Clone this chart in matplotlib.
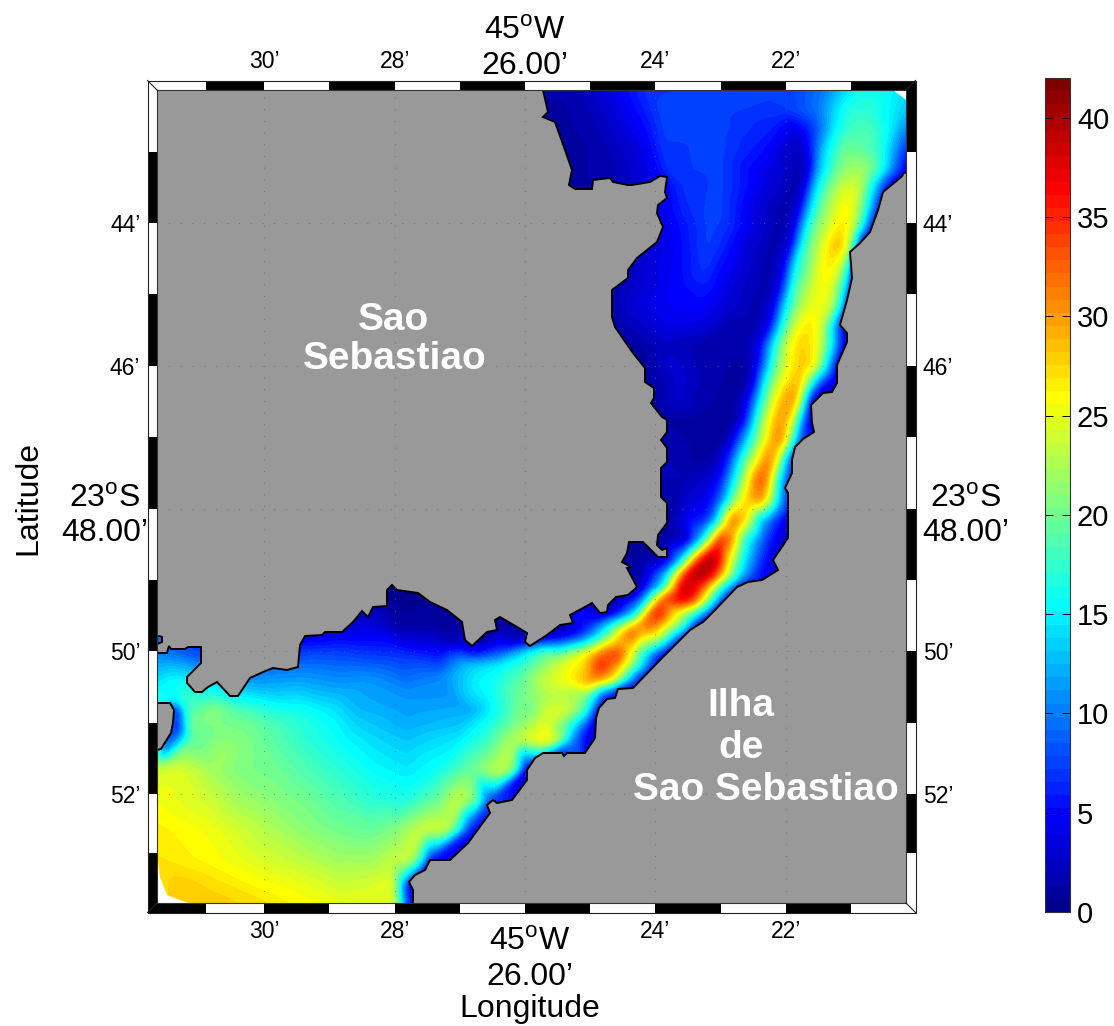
import numpy as np
import matplotlib
matplotlib.use("Agg")
import matplotlib.pyplot as plt
from matplotlib.colors import ListedColormap
from matplotlib.patches import Polygon, Rectangle
from matplotlib.tri import Triangulation, LinearTriInterpolator

plt.rcParams['font.family'] = ['Liberation Sans', 'DejaVu Sans']
plt.rcParams['mathtext.fontset'] = 'custom'
plt.rcParams['mathtext.rm'] = 'Liberation Sans'

W, H = 1114, 1026
X26, PXLON, Y44, PXLAT = 525.0, 65.2, 223.0, 71.4
MAP_L, MAP_R, MAP_T, MAP_B = 157, 906, 90, 903

def lon(px):
    return -(45 + (26 + (X26 - np.asarray(px, float)) / PXLON) / 60)
def lat(py):
    return -(23 + (44 + (np.asarray(py, float) - Y44) / PXLAT) / 60)
def lonm(m):
    return -(45 + np.asarray(m, float) / 60)
def latm(m):
    return -(23 + np.asarray(m, float) / 60)

# --- sea-surface values: (row, [(column, value), ...])
FIELD_ROWS = [
 (92,[(545,1.5),(575,1.5),(600,3),(625,5),(650,7),(700,7.5),(770,7.5),(800,8),(825,10),(840,13),(860,16),(880,16),(895,15),(905,14)]),
 (110,[(548,1),(580,1.5),(610,3),(640,5.5),(660,7.5),(720,7.5),(780,7),(800,8),(820,10),(835,14),(850,17),(870,17),(890,15),(905,13)]),
 (130,[(555,1),(590,1.5),(620,3),(645,5),(665,7.5),(720,7.5),(770,6),(795,3.5),(810,6),(822,10),(835,15),(850,18),(870,18.5),(890,15),(905,10)]),
 (150,[(567,1),(600,1.5),(640,3.5),(665,7),(720,7.5),(760,5.5),(790,2.5),(805,3),(815,8),(825,14),(845,20),(860,19.5),(880,17),(895,11),(906,6)]),
 (170,[(573,1),(620,2),(650,4),(670,7),(720,7.5),(750,5),(780,3),(800,1.5),(810,4),(818,12),(835,19),(850,22),(865,22),(880,17),(895,9),(905,4)]),
 (185,[(640,3),(665,4.5),(680,6.5),(720,7.5),(745,5.5),(775,3),(795,1.5),(805,3),(815,13),(830,20),(845,24),(860,23.5),(875,14),(885,6)]),
 (205,[(660,4),(680,6),(695,7),(720,7.5),(735,6),(760,3),(785,1.5),(800,3),(808,11),(820,19),(835,24),(847,26.5),(860,22),(872,12),(880,5)]),
 (225,[(663,4),(690,6),(710,7.5),(725,7),(755,3.5),(780,1.5),(795,3),(803,12),(815,20),(835,25.5),(845,27),(855,23),(868,10),(875,4)]),
 (245,[(655,3.5),(680,5),(708,7.5),(720,6.5),(750,3),(775,1.5),(790,3),(798,12),(810,20),(825,25),(835,29),(845,27),(852,20),(860,5)]),
 (265,[(630,2),(650,3.5),(680,5),(705,7),(720,5.5),(745,3),(770,1.5),(785,4),(795,15),(815,23),(827,27),(838,25),(848,18),(853,5)]),
 (285,[(615,1.5),(640,3),(680,5),(705,6),(730,3.5),(755,2),(775,2),(785,8),(795,18),(815,24.5),(828,26),(838,21),(848,12),(852,3)]),
 (305,[(612,1.5),(630,3),(660,4.5),(700,5),(730,3),(760,1.5),(775,4),(785,14),(800,22),(815,25.5),(830,24),(840,16),(848,5)]),
 (325,[(615,1.5),(640,2.5),(670,4),(705,3.5),(730,1.5),(755,1.5),(770,4),(780,14),(795,24),(808,27),(820,25),(832,15),(840,6)]),
 (345,[(635,1),(665,2.5),(700,1.5),(745,1.5),(760,4),(770,12),(785,23),(800,28),(810,27),(820,24),(832,15),(845,3)]),
 (365,[(645,1),(670,3),(700,1.8),(745,1),(755,3),(765,10),(775,19),(790,26),(800,28),(805,28),(815,26),(825,16),(835,6)]),
 (380,[(648,1),(680,3),(710,1.5),(745,1),(755,4),(763,13),(772,20),(785,26),(800,29),(810,20),(820,10),(835,3)]),
 (400,[(654,1),(680,3),(700,1.5),(735,1),(748,4),(757,12),(768,21),(778,27),(790,31),(798,27),(805,15),(811,4)]),
 (420,[(667,1),(700,1),(735,1),(745,5),(752,12),(762,21),(772,27),(782,31),(792,25),(800,14),(808,4)]),
 (440,[(667,2),(700,1),(722,1),(733,4),(742,10),(752,17),(763,24),(772,29),(779,32),(786,26),(793,17),(800,8)]),
 (460,[(667,2),(700,1),(715,1.5),(727,5),(737,13),(747,20),(758,26),(768,32),(775,28),(783,17),(792,6)]),
 (480,[(661,2),(690,2),(710,3),(722,6),(733,14),(745,23),(755,31),(762,34),(770,27),(778,16),(788,7)]),
 (500,[(663,1),(690,3),(705,4),(717,7),(727,14),(737,23),(750,29),(760,31),(768,25),(778,14),(788,6)]),
 (520,[(667,1),(690,5),(705,6),(717,13),(725,24),(733,33),(742,29),(750,23),(760,14),(775,7),(788,3)]),
 (540,[(665,1),(687,3),(700,12),(710,23),(720,36),(730,32),(743,18),(763,8),(780,3)]),
 (560,[(640,1),(660,2),(672,6),(680,12),(690,24),(700,36),(710,41),(720,36),(730,25),(743,15),(760,7),(775,3)]),
 (575,[(640,1),(653,6),(665,12),(672,20),(680,30),(690,39),(703,41),(713,36),(727,24),(740,14),(757,6)]),
 (587,[(640,1.5),(648,6),(663,15),(673,28),(680,37),(688,40),(700,35),(713,24),(725,14),(740,5)]),
 (595,[(387,.5),(420,.5)]),
 (600,[(620,2),(637,7),(647,14),(655,25),(663,34),(680,38),(693,34),(707,22),(718,11),(727,4)]),
 (610,[(400,.5),(430,.8),(450,.8)]),
 (613,[(607,2),(623,7),(632,12),(640,18),(648,30),(658,37),(665,33),(677,25),(690,20),(703,12),(713,5)]),
 (625,[(340,2.5),(370,3.5),(400,1),(430,1),(460,1),(500,.8),(590,6),(610,15),(630,25),(640,31),(650,33),(660,29),(680,20),(693,8),(700,3)]),
 (635,[(560,2),(580,6),(597,13),(613,22),(622,29),(630,34),(642,27),(655,26),(665,22),(675,13),(690,4)]),
 (640,[(310,4.5),(350,5),(400,3.5),(450,1.5),(485,1),(520,1.5),(540,5)]),
 (653,[(158,10),(190,8),(305,7.5),(340,7.5),(400,6.5),(440,5),(473,5),(500,8),(515,12),(530,16),(545,19)]),
 (655,[(560,20),(575,24),(590,28),(602,33),(617,35),(630,26),(642,16),(655,8),(665,3)]),
 (665,[(158,12),(180,12),(467,13),(500,15),(527,18),(560,24),(583,27),(602,36),(613,32),(627,24),(640,16),(657,4)]),
 (680,[(158,14),(175,15.5),(250,11),(300,11.5),(373,11),(440,10.5),(462,13),(475,15),(495,16),(520,19),(540,23),(560,25),(580,28),(593,31),(607,28),(617,23),(627,15),(637,6)]),
 (695,[(158,16),(190,18),(210,17),(240,14.5),(273,13.5),(340,12.5),(407,11),(450,11),(470,14),(490,15.5),(520,20),(540,22),(560,23),(580,22),(595,15),(605,6)]),
 (700,[(165,16),(175,15)]),
 (710,[(176,4),(180,8),(187,18),(215,21),(240,18.5),(273,16.5),(300,16),(333,14.5),(357,12.5),(407,11.5),(473,12),(495,15.5),(533,20),(567,24),(585,18),(597,5)]),
 (725,[(178,5),(190,20),(220,20.5),(250,20),(273,18.5),(300,17),(333,15.5),(360,13.5),(407,12),(460,13),(490,16.5),(520,21),(545,25),(570,17),(590,5)]),
 (740,[(176,10),(190,19),(223,21),(247,20.5),(273,19),(307,17),(340,15.5),(373,14),(407,13),(457,14.5),(490,18),(515,23),(547,27),(560,22),(573,10),(590,3)]),
 (755,[(160,10),(175,20),(223,22)]),
 (770,[(158,24),(180,24.5),(213,22),(240,20.5),(273,20),(307,18.5),(340,17),(373,15.5),(407,14.5),(440,16),(473,20),(500,24),(515,20),(523,7),(530,2)]),
 (800,[(158,25.5),(207,24),(240,22),(273,21),(307,20),(340,18.5),(373,17),(407,16.5),(440,20),(460,24),(478,19),(488,8)]),
 (830,[(158,26.5),(207,25.5),(240,24),(273,22.5),(307,21),(340,20),(373,19.5),(393,20.5),(423,24),(445,24),(460,15),(470,5)]),
 (860,[(158,27),(207,26),(240,25),(273,24),(307,23),(340,22),(373,22),(393,23.5),(407,24),(420,18),(430,5)]),
 (885,[(165,27.5),(185,28),(207,27.5),(257,26),(307,25),(357,24),(393,25),(400,15),(406,6),(411,4)]),
 (903,[(165,27.5),(190,28),(250,27.5),(300,26),(340,25),(393,25),(402,15),(407,6),(412,5)]),
]
# values under the land, only to close the field
LAND_FILL = [(100,50,0),(1000,50,5),(100,950,20),(1000,950,0),(300,300,0),(500,300,0),(500,500,0),
             (200,500,0),(900,500,0),(900,800,0),(600,850,0),(700,750,0),(880,300,0)]

# --- coast outlines
MAINLAND_X = [543,548,543,555,565,572,569,575,592,593,610,613,628,632,650,660,667,665,667,658,657,663,657,637,628,628,612,612,615,633,645,645,654,654,651,662,667,667,661,667,667,661,661,667,667,658,657,662,667,667,658,643,629,627,622,631,627,637,628,616,608,607,600,592,583,570,573,560,547,530,525,527,517,500,495,497,487,472,465,462,447,430,418,397,392,387,387,373,368,362,353,342,325,322,305,300,298,287,273,263,250,238,230,217,208,202,195,187,187,201,201,188,185,171,169,167,157,157,162,162,157,157]
MAINLAND_Y = [90,112,117,122,150,170,185,189,189,180,178,182,185,185,182,176,177,192,198,205,213,227,242,258,270,278,290,317,327,353,368,382,388,398,403,417,420,432,440,448,462,468,497,503,523,535,545,550,548,557,557,542,542,553,562,567,568,587,595,597,605,612,613,603,608,615,623,625,635,646,642,633,627,617,620,630,632,646,640,622,610,602,593,590,585,590,606,607,617,611,622,632,632,635,636,645,667,670,668,672,678,696,696,682,687,692,692,683,677,663,647,647,649,649,646,653,653,644,642,637,635,90]
ISLET_X = [157,170,174,173,171,161,157]
ISLET_Y = [703,703,710,723,733,749,750]
ILHA_X = [413,413,409,415,425,430,450,468,490,487,493,497,512,527,527,535,543,562,564,567,585,595,596,599,607,615,618,633,660,690,703,715,737,748,762,778,773,788,788,785,792,792,795,803,814,812,811,823,832,837,837,847,847,840,847,852,850,860,870,878,883,900,906,906]
ILHA_Y = [903,890,882,875,870,860,860,843,813,805,800,803,800,780,770,758,753,753,756,753,753,738,718,708,699,698,689,688,660,630,622,610,587,582,580,570,560,538,493,488,473,460,447,439,432,423,405,393,392,383,365,342,333,325,300,278,252,243,232,210,192,178,172,903]
BLANK_NE_X = [893,906,906]
BLANK_NE_Y = [90,100,90]
BLANK_SW_X = [157,160,167,188,157]
BLANK_SW_Y = [853,877,895,903,903]

# --- ticks and frame
LON_TICKS = [30, 28, 24, 22]
LAT_TICKS = [44, 46, 50, 52]
GRID_LON = [30, 28, 26, 24, 22]
GRID_LAT = [44, 46, 48, 50, 52]
TOP_EDGES = [31.78,30.89,30,29,28,27,26,25,24,23,22,21,20.02]
SIDE_EDGES = [42.01,43,44,45,46,47,48,49,50,51,52,52.83,53.67]
CBAR_TICKS = [0,5,10,15,20,25,30,35,40]
VMAX = 42
N_LEVELS = 64

# --- build the field on a regular grid
sx, sy, sv = [], [], []
for row_y, pts in FIELD_ROWS:
    for px, val in pts:
        sx.append(px); sy.append(row_y); sv.append(val)
for px, py, val in LAND_FILL:
    sx.append(px); sy.append(py); sv.append(val)
tri = Triangulation(np.array(sx, float), np.array(sy, float))
interp = LinearTriInterpolator(tri, np.array(sv, float))
gx = np.arange(MAP_L, MAP_R + 1.5, 2.0)
gy = np.arange(MAP_T, MAP_B + 1.5, 2.0)
GX, GY = np.meshgrid(gx, gy)
Z = np.ma.filled(interp(np.clip(GX, 158, 905), np.clip(GY, 92, 903)), 0.0)
kern = np.exp(-0.5 * (np.arange(-5, 6) * 2.0 / 4.0) ** 2); kern /= kern.sum()
pad = 5
Zp = np.pad(Z, pad, mode='edge')
Zp = np.apply_along_axis(lambda a: np.convolve(a, kern, mode='same'), 0, Zp)
Zp = np.apply_along_axis(lambda a: np.convolve(a, kern, mode='same'), 1, Zp)
Z = Zp[pad:-pad, pad:-pad]

fig = plt.figure(figsize=(W / 100, H / 100), dpi=100, facecolor='white')
ax = fig.add_axes([MAP_L / W, 1 - MAP_B / H, (MAP_R - MAP_L) / W, (MAP_B - MAP_T) / H])
ax.set_xlim(lon(MAP_L), lon(MAP_R))
ax.set_ylim(lat(MAP_B), lat(MAP_T))

# MATLAB-style jet with 64 steps
t = (np.arange(N_LEVELS) + 1) / N_LEVELS
jet_r = np.clip(np.minimum(4 * t - 1.5, 4.5 - 4 * t), 0, 1)
jet_g = np.clip(np.minimum(4 * t - 0.5, 3.5 - 4 * t), 0, 1)
jet_b = np.clip(np.minimum(4 * t + 0.5, 2.5 - 4 * t), 0, 1)
cmap = ListedColormap(np.c_[jet_r, jet_g, jet_b])
cmap.set_under(cmap(0)); cmap.set_over(cmap(N_LEVELS - 1))
levels = np.linspace(0, VMAX, N_LEVELS + 1)
cf = ax.contourf(lon(gx), lat(gy), Z, levels=levels, cmap=cmap, vmin=0, vmax=VMAX, extend='both', zorder=1)

LAND = '#999999'
for xs, ys in [(MAINLAND_X, MAINLAND_Y), (ISLET_X, ISLET_Y), (ILHA_X, ILHA_Y)]:
    ax.add_patch(Polygon(np.c_[lon(xs), lat(ys)], closed=True, fc=LAND, ec='black', lw=1.4, zorder=2))
# land strips along the map sides hide the outline there
ax.plot(lon([158, 158]), lat([90, 633]), color=LAND, lw=2.5, zorder=2.1)
ax.plot(lon([905, 905]), lat([175, 903]), color=LAND, lw=2.5, zorder=2.1)
ax.plot(lon([415, 906]), lat([902, 902]), color=LAND, lw=2.5, zorder=2.1)
for xs, ys in [(BLANK_NE_X, BLANK_NE_Y), (BLANK_SW_X, BLANK_SW_Y)]:
    ax.add_patch(Polygon(np.c_[lon(xs), lat(ys)], closed=True, fc='white', ec='none', zorder=2))

# dotted graticule
for m in GRID_LON:
    ax.axvline(lonm(m), color='#666666', lw=0.6, ls=(0, (1, 13)), zorder=3)
for m in GRID_LAT:
    ax.axhline(latm(m), color='#666666', lw=0.6, ls=(0, (1, 13)), zorder=3)

# tick labels
ax.set_xticks(lonm(LON_TICKS))
ax.set_xticklabels([f"{m}\u2019" for m in LON_TICKS], fontsize=16.5)
ax.set_yticks(latm(LAT_TICKS))
ax.set_yticklabels([f"{m}\u2019" for m in LAT_TICKS], fontsize=16.5)
ax.tick_params(length=0, top=True, right=True, labeltop=True, labelright=True, pad=12)
for s in ax.spines.values():
    s.set_edgecolor('#333333'); s.set_linewidth(0.8); s.set_zorder(6)

# striped frame
tx = ax.get_xaxis_transform()
ty = ax.get_yaxis_transform()
bw = 9.5 / (MAP_B - MAP_T)
bh = 9.5 / (MAP_R - MAP_L)
for i in range(len(TOP_EDGES) - 1):
    x0, x1 = lonm(TOP_EDGES[i]), lonm(TOP_EDGES[i + 1])
    top_c = 'white' if i % 2 == 0 else 'black'
    bot_c = 'black' if i % 2 == 0 else 'white'
    ax.add_patch(Rectangle((x0, 1), x1 - x0, bw, transform=tx, fc=top_c, ec='none', clip_on=False, zorder=5))
    ax.add_patch(Rectangle((x0, -bw), x1 - x0, bw, transform=tx, fc=bot_c, ec='none', clip_on=False, zorder=5))
for i in range(len(SIDE_EDGES) - 1):
    y0, y1 = latm(SIDE_EDGES[i]), latm(SIDE_EDGES[i + 1])
    l_c = 'white' if i % 2 == 0 else 'black'
    r_c = 'black' if i % 2 == 0 else 'white'
    ax.add_patch(Rectangle((-bh, y0), bh, y1 - y0, transform=ty, fc=l_c, ec='none', clip_on=False, zorder=5))
    ax.add_patch(Rectangle((1, y0), bh, y1 - y0, transform=ty, fc=r_c, ec='none', clip_on=False, zorder=5))
ax.add_patch(Rectangle((-bh, -bw), 1 + 2 * bh, 1 + 2 * bw, transform=ax.transAxes, fc='none', ec='#222222', lw=0.8, clip_on=False, zorder=6))
for (cx, cy), (ox, oy) in [((0, 1), (-bh, 1 + bw)), ((1, 1), (1 + bh, 1 + bw)), ((0, 0), (-bh, -bw)), ((1, 0), (1 + bh, -bw))]:
    ax.plot([cx, ox], [cy, oy], transform=ax.transAxes, color='#222222', lw=0.8, clip_on=False, zorder=7)

# large labels
def label(px, py, s, **kw):
    kw.setdefault('fontsize', 23)
    fig.text(px / W, 1 - py / H, s, ha='center', va='center', **kw)

DEG_W = "45$^{\\mathrm{o}}$W"
DEG_S = "23$^{\\mathrm{o}}$S"
label(525, 31, DEG_W)
label(525, 66, "26.00\u2019")
label(530, 942, DEG_W)
label(530, 977, "26.00\u2019")
label(530, 1009, "Longitude")
label(105, 499, DEG_S)
label(105, 533, "48.00\u2019")
label(966, 499, DEG_S)
label(966, 533, "48.00\u2019")
label(28, 498, "Latitude", rotation=90)
for px, py, s in [(394, 320, "Sao"), (395, 359, "Sebastiao"), (741, 706, "Ilha"), (741, 748, "de"), (766, 790, "Sao Sebastiao")]:
    ax.text(lon(px), lat(py), s, color='white', fontsize=28, fontweight='bold', ha='center', va='center', zorder=8)

# colour bar
cax = fig.add_axes([1045 / W, 1 - 912 / H, 25 / W, 834 / H])
sm = plt.cm.ScalarMappable(norm=plt.Normalize(0, VMAX), cmap=cmap)
cb = fig.colorbar(sm, cax=cax, ticks=CBAR_TICKS)
cb.ax.tick_params(labelsize=21, direction='in', length=6, width=0.7, left=True, right=True, pad=5)
cb.outline.set_linewidth(0.8)
cb.outline.set_edgecolor('#333333')

fig.savefig('out.png', dpi=100, facecolor='white')
